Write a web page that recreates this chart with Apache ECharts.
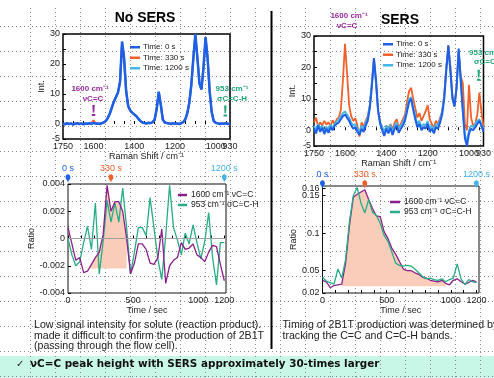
<!DOCTYPE html>
<html><head><meta charset="utf-8">
<script src="https://cdn.jsdelivr.net/npm/echarts@6/dist/echarts.min.js"></script>
<style>html,body{margin:0;padding:0;background:#fff}#c{width:494px;height:378px}</style>
</head><body><div id="c"></div>
<script>
// Raman shift grid (cm^-1)
const wavenumbers = [1750,1740,1730,1720,1710,1700,1690,1680,1670,1660,
1650,1640,1630,1620,1610,1600,1590,1580,1570,1560,
1550,1540,1530,1520,1510,1500,1490,1480,1470,1460,
1450,1440,1430,1420,1410,1400,1390,1380,1370,1360,
1350,1340,1330,1320,1310,1300,1290,1280,1270,1260,
1250,1240,1230,1220,1210,1200,1190,1180,1170,1160,
1150,1140,1130,1120,1110,1100,1090,1080,1070,1060,
1050,1040,1030,1020,1010,1000,990,980,970,960,
950,940,930];
// No SERS spectra
const noSers0 = [0.2,-0.1,0.3,0.0,0.2,-0.2,0.1,0.3,0.0,0.2,
-0.1,0.2,0.1,0.3,0.0,0.4,0.1,0.2,0.0,0.3,
0.5,1.0,2.0,3.5,5.5,7.5,9.0,10.5,14.0,27.5,
22.0,11.0,6.0,4.5,3.8,3.2,2.6,1.8,1.0,0.5,
0.3,0.2,0.4,0.3,0.6,1.5,5.0,10.8,6.5,1.5,
0.5,0.3,0.2,0.0,0.3,0.1,0.2,0.0,0.3,0.6,
1.5,3.5,7.0,13.0,22.0,30.0,22.0,13.5,11.5,19.0,
29.0,22.0,11.0,4.0,1.0,0.4,0.2,0.0,0.2,0.1,
0.3,0.0,0.2];
const noSers330 = [0.1,0.0,0.2,0.1,0.1,-0.1,0.2,0.2,0.1,0.1,
0.0,0.1,0.2,0.2,0.3,1.2,0.2,0.1,0.1,0.2,
0.5,1.0,2.0,3.5,5.5,7.5,9.0,10.5,14.0,27.0,
21.5,11.0,6.0,4.5,3.8,3.2,2.6,1.8,1.0,0.5,
0.3,0.2,0.3,0.3,0.6,1.5,5.0,10.5,6.5,1.5,
0.5,0.3,0.2,0.1,0.2,0.1,0.2,0.1,0.2,0.6,
1.5,3.5,7.0,13.0,22.0,29.5,22.0,13.5,11.5,19.0,
28.5,22.0,11.0,4.0,1.0,0.4,0.2,0.1,0.2,0.1,
0.2,0.1,0.2];
const noSers1200 = [0.1,0.0,0.2,0.0,0.1,-0.1,0.1,0.2,0.0,0.1,
0.0,0.1,0.1,0.2,0.1,0.4,0.1,0.1,0.0,0.2,
0.5,1.0,2.0,3.5,5.5,7.5,9.0,10.5,14.0,27.0,
21.5,11.0,6.0,4.5,3.8,3.2,2.6,1.8,1.0,0.5,
0.3,0.2,0.3,0.3,0.6,1.5,5.0,10.5,6.5,1.5,
0.5,0.3,0.2,0.0,0.2,0.1,0.1,0.0,0.2,0.6,
1.5,3.5,7.0,13.0,22.0,29.5,22.0,13.5,11.5,19.0,
28.5,22.0,11.0,4.0,1.0,0.4,0.2,0.0,0.2,0.1,
0.2,0.0,0.1];
// SERS spectra
const sers0 = [0.5,-1.0,1.5,-0.5,0.8,-1.2,0.5,-0.8,1.0,0.0,
1.5,2.0,2.5,3.5,4.5,5.0,4.0,3.0,1.5,0.5,
1.0,-0.5,-1.5,0.5,-0.5,1.5,3.0,7.0,14.0,23.0,
16.0,6.5,2.0,0.0,-1.8,0.5,-1.0,0.8,-1.5,0.5,
1.5,-0.8,0.5,1.5,3.0,6.0,9.0,10.0,6.5,3.5,
1.0,2.0,0.0,1.0,0.5,2.0,-0.5,0.5,-1.0,1.0,
0.5,2.5,5.0,10.0,19.0,27.0,19.0,10.0,7.5,14.0,
26.0,16.0,6.0,-2.5,-5.0,-1.0,0.5,0.0,1.0,2.0,
3.0,1.5,-0.5];
const sers330 = [2.5,4.0,1.0,2.5,1.5,3.0,1.8,2.6,1.2,3.2,
2.0,3.5,4.0,6.5,16.0,27.5,18.0,8.0,4.5,3.0,
3.8,1.5,-2.0,2.5,1.0,3.0,4.5,8.0,15.0,23.0,
15.0,6.0,2.5,1.0,-1.5,1.5,0.5,2.0,0.0,2.5,
3.5,1.0,2.0,3.5,5.0,9.0,12.5,13.5,10.0,7.0,
4.0,5.5,3.0,4.5,6.0,8.0,3.5,2.0,1.0,3.0,
2.0,4.0,6.0,11.0,20.0,27.0,20.0,11.0,8.0,14.0,
25.0,17.0,15.0,2.0,0.0,14.5,4.0,1.5,2.0,5.0,
12.0,6.0,1.0];
const sers1200 = [1.5,0.0,2.0,0.5,1.5,-0.5,1.2,0.2,1.8,0.8,
2.0,2.8,3.5,4.5,5.5,6.0,5.0,4.0,2.5,1.5,
2.0,0.5,-0.5,1.5,0.5,2.5,4.0,8.0,15.0,22.0,
15.0,6.0,2.5,1.0,-0.5,1.5,0.0,1.8,-0.5,1.5,
2.5,0.5,1.5,2.5,4.0,7.0,10.0,10.5,7.5,4.5,
2.0,3.0,1.0,2.0,1.5,3.0,0.5,1.5,0.0,2.0,
1.5,3.5,6.0,11.0,20.0,26.0,18.0,10.0,8.0,13.5,
25.0,15.0,6.5,-1.5,-3.5,0.0,1.5,1.0,2.0,3.0,
3.5,2.0,0.5];
// Time series (s)
const times = [0,30,60,90,120,150,180,210,240,270,
300,330,360,390,420,450,480,510,540,570,
600,630,660,690,720,750,780,810,840,870,
900,930,960,990,1020,1050,1080,1110,1140,1170,1200];
const noSersRatio1600 = [0.0008,-0.0004,-0.0016,-0.0014,-0.0025,-0.0024,-0.0019,-0.0014,-0.0010,0.0003,
0.0039,0.0020,0.0027,0.0027,0.0020,0.0000,-0.0026,-0.0018,-0.0004,-0.0004,
-0.0008,-0.0018,-0.0019,-0.0014,0.0007,-0.0033,-0.0020,-0.0016,-0.0014,-0.0003,
-0.0008,-0.0007,-0.0004,-0.0012,-0.0014,-0.0017,-0.0010,-0.0005,-0.0006,-0.0019,
-0.0031];
const noSersRatio953 = [0.0000,-0.0012,-0.0020,-0.0017,-0.0003,0.0009,-0.0008,0.0026,-0.0026,-0.0002,
0.0028,0.0012,0.0026,0.0012,0.0037,0.0008,-0.0026,-0.0010,0.0008,0.0008,
0.0002,0.0030,0.0008,-0.0015,-0.0030,0.0002,0.0039,0.0008,-0.0001,-0.0012,
0.0004,-0.0004,0.0010,-0.0003,-0.0015,-0.0002,0.0019,-0.0014,-0.0034,-0.0003,
-0.0003];
const sersRatio1600 = [0.037,0.035,0.027,0.030,0.031,0.032,0.060,0.110,0.148,0.152,
0.155,0.158,0.145,0.133,0.123,0.122,0.102,0.093,0.080,0.072,
0.062,0.052,0.050,0.050,0.047,0.045,0.041,0.040,0.037,0.036,
0.035,0.037,0.033,0.031,0.037,0.039,0.035,0.032,0.034,0.037,
0.035];
const sersRatio953 = [0.041,0.036,0.034,0.032,0.052,0.040,0.065,0.115,0.150,0.161,
0.140,0.127,0.145,0.128,0.124,0.113,0.097,0.089,0.075,0.060,
0.057,0.056,0.057,0.056,0.052,0.047,0.042,0.039,0.040,0.038,
0.037,0.039,0.035,0.038,0.040,0.059,0.039,0.031,0.038,0.035,
0.034];
const timeMarkers = ['0 s','330 s','1200 s'];
const timeMarkerValues = [0,330,1200];
// Tick labels
const wnLabels = [1750,1600,1400,1200,1000];
const wnEndLabel = [930];
const intLabels = [-5,0,10,20,30];
const timeLabels = [0,500,1000,1200];
const ratioLabelsNoSers = [-0.004,-0.002,0,0.002,0.004];
const ratioLabelsSers = [0.02,0.05,0.1,0.16];
const ratioLabelsSersExtra = [0.15];

const C0 = '#1e5fe6', C330 = '#f0602a', C1200 = '#45b4e8';
const CP = '#8c1f8c', CG = '#26ad85', FILL = '#f9cdb9';
const FONT = '"Liberation Sans", Arial, sans-serif';
const pair = (xs, ys) => xs.map((x, i) => [x, ys[i]]);

const bangPath = 'path://M1,0 L3,0 L2.6,9 L1.4,9 Z M0.6,10.5 L3.4,10.5 L3.4,13 L0.6,13 Z';
const markerColors = [C0, C330, C1200];
function pins(ymax, off) {
  return {
    symbol: 'pin', symbolSize: [8, 10], symbolOffset: [0, off], silent: true,
    data: timeMarkers.map((n, i) => ({
      name: n, coord: [timeMarkerValues[i], ymax],
      itemStyle: { color: markerColors[i] },
      label: { show: true, position: 'top', distance: 1, formatter: '{b}', color: markerColors[i], fontSize: 9, fontFamily: FONT }
    }))
  };
}

// Decorative slide background: dotted grid
const graphics = [];
for (let x = 30; x <= 480; x += 25) {
  graphics.push({ type: 'line', z: -10, silent: true, shape: { x1: x + 0.5, y1: 8, x2: x + 0.5, y2: 378 }, style: { stroke: '#8a8a8a', lineWidth: 1, lineDash: [1, 3] } });
}
for (let y = 26; y <= 376; y += 25) {
  graphics.push({ type: 'line', z: -10, silent: true, shape: { x1: 0, y1: y + 0.5, x2: 494, y2: y + 0.5 }, style: { stroke: '#8a8a8a', lineWidth: 1, lineDash: [1, 3] } });
}
graphics.push({ type: 'rect', z: -20, silent: true, shape: { x: 0, y: 356, width: 494, height: 22 }, style: { fill: '#c9f7e7' } });
graphics.push({ type: 'line', z: 5, silent: true, shape: { x1: 271.5, y1: 11, x2: 271.5, y2: 349 }, style: { stroke: '#000', lineWidth: 2 } });
function txt(t, x, y, font, fill, align) {
  graphics.push({ type: 'text', z: 10, silent: true, style: { text: t, x: x, y: y, font: font, fill: fill || '#222', textAlign: align || 'center', textVerticalAlign: 'middle' } });
}
txt('No SERS', 145, 18, 'bold 14px ' + FONT, '#000');
txt('SERS', 400, 20.5, 'bold 14px ' + FONT, '#000');
txt('1600 cm⁻¹', 90, 89, 'bold 8px ' + FONT, '#9a2b9a');
txt('νC=C', 93, 99, 'bold 8px ' + FONT, '#9a2b9a');
txt('953 cm⁻¹', 232, 89, 'bold 8px ' + FONT, '#22a876');
txt('σC=C-H', 232, 99, 'bold 8px ' + FONT, '#22a876');
txt('1600 cm⁻¹', 349, 15.5, 'bold 8px ' + FONT, '#9a2b9a');
txt('νC=C', 347, 26, 'bold 8px ' + FONT, '#9a2b9a');
txt('953 cm⁻¹', 469, 52.5, 'bold 8px ' + FONT, '#22a876', 'left');
txt('σC=C-H', 474, 61.5, 'bold 8px ' + FONT, '#22a876', 'left');
txt('Low signal intensity for solute (reaction product).', 34, 325, '10.6px ' + FONT, '#222', 'left');
txt('made it difficult to confirm the production of 2B1T', 34, 336, '10.6px ' + FONT, '#222', 'left');
txt('(passing through the flow cell).', 34, 346.5, '10.6px ' + FONT, '#222', 'left');
txt('Timing of 2B1T production was determined by', 282.5, 325, '10.6px ' + FONT, '#222', 'left');
txt('tracking the C=C and C=C-H bands.', 282.5, 336, '10.6px ' + FONT, '#222', 'left');
txt('✓', 16, 364, 'bold 10px "DejaVu Sans"', '#222', 'left');
txt('νC=C peak height with SERS approximately 30-times larger', 30, 364, 'bold 10.4px "DejaVu Sans"', '#111', 'left');

const axLabel = { fontSize: 9, color: '#222', fontFamily: FONT, hideOverlap: false, showMinLabel: true, showMaxLabel: true };
const axName = { fontSize: 9, color: '#222', fontFamily: FONT };
const tickStyle = { color: '#000', width: 1 };
const wnTicks = [1750,1700,1650,1600,1550,1500,1450,1400,1350,1300,1250,1200,1150,1100,1050,1000,950];
const plain = v => String(+(+v).toFixed(4));

function specX(i) {
  return { gridIndex: i, type: 'value', min: 930, max: 1750, inverse: true, position: 'bottom',
    axisLine: { show: false }, splitLine: { show: false },
    axisTick: { show: true, inside: true, length: 3, customValues: wnTicks, lineStyle: tickStyle },
    axisLabel: Object.assign({ customValues: wnLabels, margin: 3, formatter: plain }, axLabel),
    name: 'Raman Shift / cm⁻¹', nameLocation: 'middle', nameGap: 12, nameTextStyle: axName };
}
function specXEnd(i) {
  return { gridIndex: i, type: 'value', min: 930, max: 1750, inverse: true, position: 'bottom', offset: 0,
    axisLine: { show: false }, splitLine: { show: false }, axisTick: { show: false },
    axisLabel: Object.assign({ customValues: wnEndLabel, margin: 3, formatter: plain }, axLabel) };
}
function specY(i) {
  return { gridIndex: i, type: 'value', min: -5, max: 30,
    axisLine: { show: false }, splitLine: { show: false },
    axisTick: { show: true, inside: true, length: 3, customValues: [-5,0,5,10,15,20,25,30], lineStyle: tickStyle },
    axisLabel: Object.assign({ customValues: intLabels, margin: 3, formatter: plain }, axLabel),
    name: 'Int.', nameLocation: 'middle', nameGap: 12, nameTextStyle: axName };
}
function timeX(i, max) {
  return { gridIndex: i, type: 'value', min: 0, max: max,
    axisLine: { show: false }, splitLine: { show: false },
    axisTick: { show: true, inside: true, length: 3, customValues: [0,100,200,300,400,500,600,700,800,900,1000,1100,1200], lineStyle: tickStyle },
    axisLabel: Object.assign({ customValues: timeLabels, margin: 3, formatter: plain }, axLabel),
    name: 'Time / sec', nameLocation: 'middle', nameGap: 9, nameTextStyle: axName };
}
const legendText = (fs, lh, pl) => ({ fontSize: fs, color: '#222', fontFamily: FONT, lineHeight: lh, padding: [0, 0, 0, pl] });

const option = {
  animation: false,
  backgroundColor: '#fff',
  textStyle: { fontFamily: FONT },
  graphic: graphics,
  grid: [
    { left: 63, top: 34, width: 167, height: 105, show: true, borderColor: '#000', borderWidth: 1.5, backgroundColor: 'transparent' },
    { left: 314, top: 36, width: 171, height: 110, show: true, borderColor: '#000', borderWidth: 1.5, backgroundColor: 'transparent' },
    { left: 68, top: 184, width: 158, height: 109, show: true, borderColor: '#111', borderWidth: 1, backgroundColor: 'transparent' },
    { left: 322.5, top: 186, width: 156.5, height: 107, show: true, borderColor: '#111', borderWidth: 1, backgroundColor: 'transparent' }
  ],
  xAxis: [specX(0), specX(1), timeX(2, 1213), timeX(3, 1220), specXEnd(0), specXEnd(1)],
  yAxis: [specY(0), specY(1),
    { gridIndex: 2, type: 'value', min: -0.004, max: 0.004, axisLine: { show: false }, splitLine: { show: false },
      axisTick: { show: true, inside: true, length: 3, customValues: ratioLabelsNoSers, lineStyle: tickStyle },
      axisLabel: Object.assign({ customValues: ratioLabelsNoSers, margin: 3, formatter: v => (Math.abs(v) < 1e-9 ? '0' : (+v).toFixed(3)) }, axLabel),
      name: 'Ratio', nameLocation: 'middle', nameGap: 22, nameTextStyle: axName },
    { gridIndex: 3, type: 'value', min: 0.02, max: 0.163, position: 'left', axisLine: { show: false }, splitLine: { show: false },
      axisTick: { show: true, inside: true, length: 3, customValues: [0.02,0.05,0.1,0.15,0.16], lineStyle: tickStyle },
      axisLabel: Object.assign({ customValues: ratioLabelsSers, margin: 3, formatter: plain }, axLabel),
      name: 'Ratio', nameLocation: 'middle', nameGap: 20, nameTextStyle: axName },
    { gridIndex: 3, type: 'value', min: 0.02, max: 0.163, position: 'left', offset: 0, axisLine: { show: false }, splitLine: { show: false }, axisTick: { show: false },
      axisLabel: Object.assign({ customValues: ratioLabelsSersExtra, margin: 3, formatter: plain }, axLabel) }
  ],
  legend: [
    { data: ['Time: 0 s','Time: 330 s','Time: 1200 s'], orient: 'vertical', left: 130, top: 42, itemWidth: 10, itemHeight: 2.5, itemGap: 0, icon: 'rect', selectedMode: false, padding: 0, textStyle: legendText(8, 10.5, -2) },
    { data: ['Time: 0 s','Time: 330 s','Time: 1200 s'], orient: 'vertical', left: 383, top: 39, itemWidth: 10, itemHeight: 2.5, itemGap: 0, icon: 'rect', selectedMode: false, padding: 0, textStyle: legendText(8, 10.5, -2) },
    { data: ['1600 cm⁻¹ νC=C','953 cm⁻¹ σC=C-H'], orient: 'vertical', left: 178, top: 190, itemWidth: 9, itemHeight: 2.5, itemGap: 0, icon: 'rect', selectedMode: false, padding: 0, textStyle: legendText(8.5, 10, -1) },
    { data: ['1600 cm⁻¹ νC=C','953 cm⁻¹ σC=C-H'], orient: 'vertical', left: 390, top: 197, itemWidth: 10, itemHeight: 2.5, itemGap: 0, icon: 'rect', selectedMode: false, padding: 0, textStyle: legendText(8.5, 10, -1) }
  ],
  series: [
    // Panel 1: No SERS
    { name: 'Time: 330 s', type: 'line', xAxisIndex: 0, yAxisIndex: 0, data: pair(wavenumbers, noSers330), showSymbol: false, color: C330, lineStyle: { width: 2 } },
    { name: 'Time: 1200 s', type: 'line', xAxisIndex: 0, yAxisIndex: 0, data: pair(wavenumbers, noSers1200), showSymbol: false, color: C1200, lineStyle: { width: 2 } },
    { name: 'Time: 0 s', type: 'line', xAxisIndex: 0, yAxisIndex: 0, data: pair(wavenumbers, noSers0), showSymbol: false, color: C0, lineStyle: { width: 2.5 },
      markPoint: { silent: true, symbol: bangPath, symbolSize: [3.5, 11], label: { show: false },
        data: [ { coord: [1600, 4.5], itemStyle: { color: '#9a2b9a' } }, { coord: [953, 4.3], itemStyle: { color: '#22a876' } } ] } },
    // Panel 2: SERS
    { name: 'Time: 330 s', type: 'line', xAxisIndex: 1, yAxisIndex: 1, data: pair(wavenumbers, sers330), showSymbol: false, color: C330, lineStyle: { width: 1.8 } },
    { name: 'Time: 1200 s', type: 'line', xAxisIndex: 1, yAxisIndex: 1, data: pair(wavenumbers, sers1200), showSymbol: false, color: C1200, lineStyle: { width: 1.8 } },
    { name: 'Time: 0 s', type: 'line', xAxisIndex: 1, yAxisIndex: 1, data: pair(wavenumbers, sers0), showSymbol: false, color: C0, lineStyle: { width: 2 },
      markPoint: { silent: true, symbol: bangPath, symbolSize: [3.5, 11], label: { show: false },
        data: [ { coord: [1600, 31.5], itemStyle: { color: '#9a2b9a' } }, { coord: [953, 17.5], itemStyle: { color: '#22a876' } } ] } },
    // Panel 3: No SERS ratio
    { name: 'fill3', type: 'line', xAxisIndex: 2, yAxisIndex: 2, data: pair(times.slice(5, 16), noSersRatio1600.slice(5, 16)), showSymbol: false, lineStyle: { width: 0 }, color: FILL, areaStyle: { color: FILL, opacity: 1, origin: -0.0022 }, z: 1,
      markLine: { silent: true, symbol: 'none', label: { show: false }, lineStyle: { color: '#a0a0a0', width: 1, type: 'solid' }, data: [{ yAxis: 0 }] } },
    { name: '953 cm⁻¹ σC=C-H', type: 'line', xAxisIndex: 2, yAxisIndex: 2, data: pair(times, noSersRatio953), showSymbol: false, color: CG, lineStyle: { width: 1.3 } },
    { name: '1600 cm⁻¹ νC=C', type: 'line', xAxisIndex: 2, yAxisIndex: 2, data: pair(times, noSersRatio1600), showSymbol: false, color: CP, lineStyle: { width: 1.3 },
      markPoint: pins(0.004, -1) },
    // Panel 4: SERS ratio
    { name: 'fill4', type: 'line', xAxisIndex: 3, yAxisIndex: 3, data: pair(times.slice(5, 33), sersRatio1600.slice(5, 33)), showSymbol: false, lineStyle: { width: 0 }, color: FILL, areaStyle: { color: FILL, opacity: 1, origin: 0.029 }, z: 1 },
    { name: '1600 cm⁻¹ νC=C', type: 'line', xAxisIndex: 3, yAxisIndex: 3, data: pair(times, sersRatio1600), showSymbol: false, color: CP, lineStyle: { width: 1.3 },
      markPoint: pins(0.163, 3) },
    { name: '953 cm⁻¹ σC=C-H', type: 'line', xAxisIndex: 3, yAxisIndex: 3, data: pair(times, sersRatio953), showSymbol: false, color: CG, lineStyle: { width: 1.3 } }
  ]
};
const chart = echarts.init(document.getElementById('c'), null, { renderer: 'canvas' });
chart.setOption(option);
</script>
</body></html>
